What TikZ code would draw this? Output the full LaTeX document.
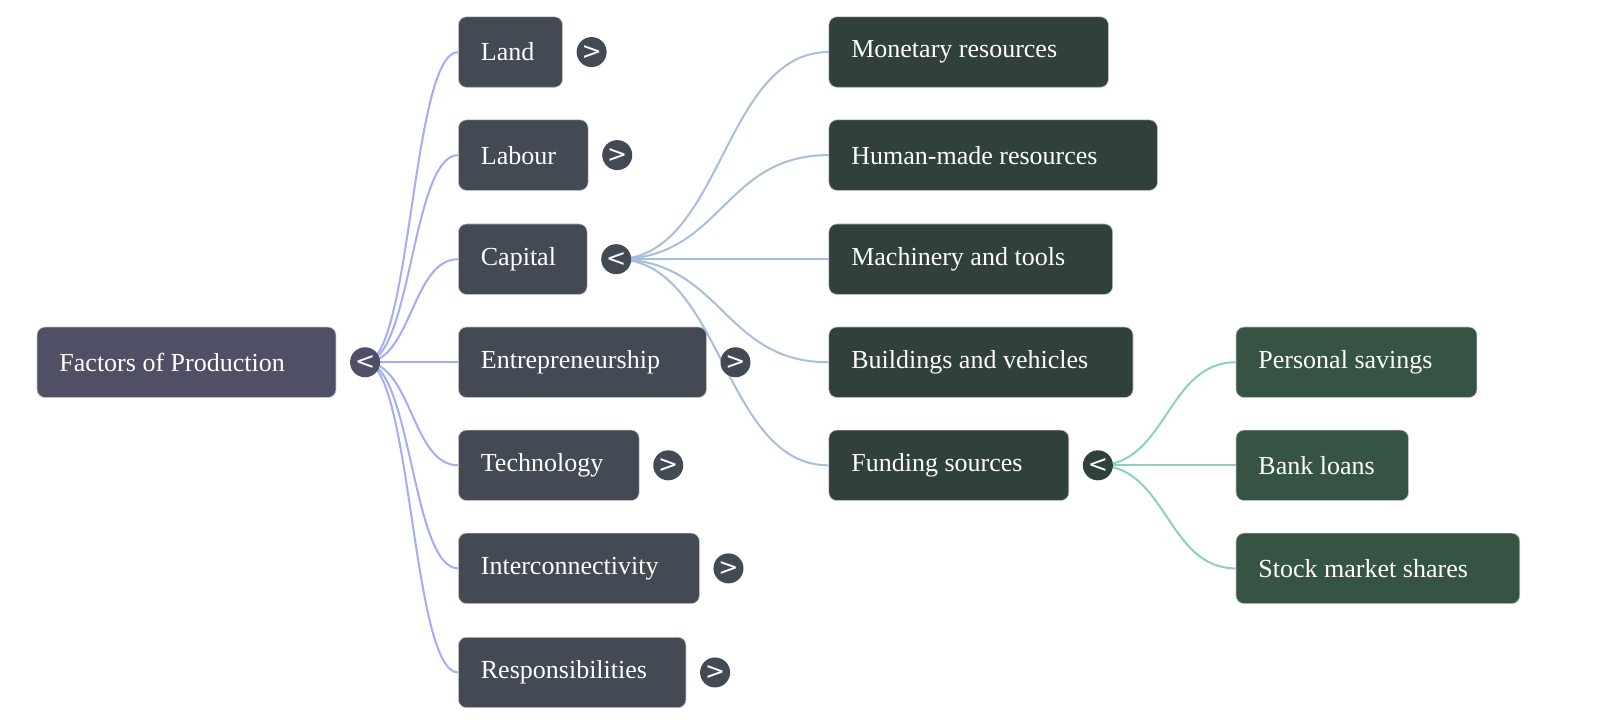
\documentclass[tikz,border=0pt]{standalone}
\usepackage{fontspec}
\setmainfont{Liberation Serif}
\newfontfamily\togglefont{DejaVu Sans}
\usetikzlibrary{calc,positioning,backgrounds}
\definecolor{rootfill}{HTML}{4F5066}
\definecolor{lvlone}{HTML}{434A54}
\definecolor{lvltwo}{HTML}{30403C}
\definecolor{lvlthree}{HTML}{365444}
\definecolor{rootlink}{HTML}{A3ADF5}
\definecolor{capitallink}{HTML}{A6BFDC}
\definecolor{fundinglink}{HTML}{8ECFBE}
\begin{document}
\begin{tikzpicture}[x=0.51pt,y=-0.51pt,
	box/.style={anchor=west, rounded corners=4pt, minimum height=35.2pt, inner xsep=11.2pt, inner ysep=0pt, align=flush left, text=white, draw=white!75!black, line width=0.3pt, font=\fontsize{13}{15}\selectfont},
	toggle/.style={circle, fill=#1, inner sep=0pt, minimum size=15pt, text=white, font=\togglefont\fontsize{12}{12}\selectfont},
	link/.style={line width=1pt, draw=#1, to path={let \p1=(\tikztostart), \p2=(\tikztotarget) in .. controls ({(\x1+\x2)/2},\y1) and ({(\x1+\x2)/2},\y2) .. (\p2)}}]
	\useasboundingbox (0,0) rectangle (1568,711.5);
	\node[box, fill=rootfill, text width=127pt] (root) at (36,355) {Factors of Production};
	\node[toggle=rootfill, right=6.7pt of root] (troot) {<};
	\node[box, fill=lvlone, text width=29.6pt] (land) at (449,51) {Land};
	\node[box, fill=lvlone, text width=42.4pt] (labour) at (449,152) {Labour};
	\node[box, fill=lvlone, text width=41.9pt] (capital) at (449,254) {Capital};
	\node[box, fill=lvlone, text width=101.5pt] (entre) at (449,355) {Entrepreneurship};
	\node[box, fill=lvlone, text width=67.9pt] (tech) at (449,456) {Technology};
	\node[box, fill=lvlone, text width=98pt] (inter) at (449,557) {Interconnectivity};
	\node[box, fill=lvlone, text width=91.3pt] (resp) at (449,659) {Responsibilities};
	\node[toggle=lvlone, right=6.7pt of land] (tland) {>};
	\node[toggle=lvlone, right=6.7pt of labour] (tlabour) {>};
	\node[toggle=lvlone, right=6.7pt of capital] (tcapital) {<};
	\node[toggle=lvlone, right=6.7pt of entre] (tentre) {>};
	\node[toggle=lvlone, right=6.7pt of tech] (ttech) {>};
	\node[toggle=lvlone, right=6.7pt of inter] (tinter) {>};
	\node[toggle=lvlone, right=6.7pt of resp] (tresp) {>};
	\node[box, fill=lvltwo, text width=117.3pt] (monetary) at (812,51) {Monetary resources};
	\node[box, fill=lvltwo, text width=141.8pt] (humanmade) at (812,152) {Human-made resources};
	\node[box, fill=lvltwo, text width=119.4pt] (machinery) at (812,254) {Machinery and tools};
	\node[box, fill=lvltwo, text width=129.6pt] (buildings) at (812,355) {Buildings and vehicles};
	\node[box, fill=lvltwo, text width=97.5pt] (funding) at (812,456) {Funding sources};
	\node[toggle=lvltwo, right=6.7pt of funding] (tfunding) {<};
	\node[box, fill=lvlthree, text width=98pt] (savings) at (1211,355) {Personal savings};
	\node[box, fill=lvlthree, text width=63.8pt] (loans) at (1211,456) {Bank loans};
	\node[box, fill=lvlthree, text width=119.4pt] (shares) at (1211,557) {Stock market shares};
	\begin{scope}[on background layer]
		\foreach \k in {land,labour,capital,entre,tech,inter,resp}
			\draw[link=rootlink] (troot.center) to (\k.west);
		\foreach \k in {monetary,humanmade,machinery,buildings,funding}
			\draw[link=capitallink] (tcapital.center) to (\k.west);
		\foreach \k in {savings,loans,shares}
			\draw[link=fundinglink] (tfunding.center) to (\k.west);
	\end{scope}
\end{tikzpicture}
\end{document}
